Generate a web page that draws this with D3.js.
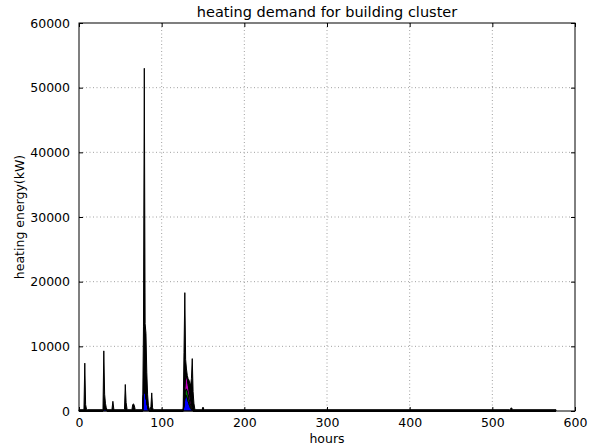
<!DOCTYPE html>
<html>
<head>
<meta charset="utf-8">
<script src="https://cdn.jsdelivr.net/npm/d3@7"></script>
<style>
  html, body { margin: 0; padding: 0; background: #fff; }
  svg { display: block; }
  text { font-family: "DejaVu Sans", sans-serif; fill: #000; }
</style>
</head>
<body>
<svg id="chart" width="594" height="448"></svg>
<script>
// Sampled hours (only the hours where the load changes are listed)
const hours = [
  0, 5, 6, 7, 8, 9, 10,
  29, 30, 31, 32, 33, 34,
  39, 40, 41, 42, 43,
  55, 56, 57, 58, 59,
  64, 65, 66, 67, 68,
  77, 78, 79, 80, 81, 82, 83, 84, 85, 86, 87, 88, 89, 90,
  126, 127, 128, 129, 130, 131, 132, 133, 134, 135, 136, 137, 138, 139, 140, 141,
  148, 149, 150, 151, 152,
  521, 522, 523, 524, 525,
  577
];

// Total heating demand of the cluster (kW)
const totalDemand = [
  200, 200, 300, 7400, 1000, 300, 200,
  200, 9300, 2600, 1200, 500, 200,
  200, 400, 1500, 400, 200,
  200, 4100, 1300, 400, 200,
  200, 1000, 1100, 800, 200,
  200, 13000, 53000, 13500, 12000, 6000, 2500, 800, 300, 200, 700, 2800, 500, 200,
  200, 9000, 18300, 8000, 6500, 5500, 5000, 4800, 4300, 4000, 5000, 8100, 3000, 1200, 400, 200,
  200, 300, 600, 300, 200,
  200, 300, 500, 300, 200,
  200
];

// Individual building loads (kW), stacked from the bottom
const building1 = [
  0, 0, 0, 0, 0, 0, 0,
  0, 200, 400, 300, 100, 0,
  0, 0, 0, 0, 0,
  0, 0, 0, 0, 0,
  0, 0, 0, 0, 0,
  0, 2500, 3300, 3000, 2200, 1400, 700, 200, 0, 0, 0, 0, 0, 0,
  0, 800, 1800, 2500, 2400, 2000, 1500, 1100, 700, 400, 200, 100, 0, 0, 0, 0,
  0, 0, 0, 0, 0,
  0, 0, 0, 0, 0,
  0
];
const building2 = [
  0, 0, 0, 0, 0, 0, 0,
  0, 0, 0, 0, 0, 0,
  0, 0, 0, 0, 0,
  0, 0, 0, 0, 0,
  0, 0, 0, 0, 0,
  0, 0, 0, 0, 0, 0, 0, 0, 0, 0, 0, 0, 0, 0,
  0, 200, 500, 800, 1000, 1100, 1100, 900, 700, 500, 300, 100, 0, 0, 0, 0,
  0, 0, 0, 0, 0,
  0, 0, 0, 0, 0,
  0
];
const building3 = [
  0, 0, 0, 0, 0, 0, 0,
  0, 0, 0, 0, 0, 0,
  0, 0, 0, 0, 0,
  0, 0, 0, 0, 0,
  0, 0, 0, 0, 0,
  0, 0, 0, 0, 0, 0, 0, 0, 0, 0, 0, 0, 0, 0,
  0, 500, 1300, 1900, 2000, 1800, 1500, 1300, 1000, 800, 600, 300, 100, 0, 0, 0,
  0, 0, 0, 0, 0,
  0, 0, 0, 0, 0,
  0
];
// Remaining buildings: whatever is left of the total
const building4 = totalDemand.map((t, i) => t - building1[i] - building2[i] - building3[i]);

const seriesKeys = ["b1", "b2", "b3", "b4"];
const seriesColors = ["#0000ff", "#008000", "#bf00bf", "#000000"];

const xTicks = [0, 100, 200, 300, 400, 500, 600];
const yTicks = [0, 10000, 20000, 30000, 40000, 50000, 60000];

const titleText = "heating demand for building cluster";
const xLabelText = "hours";
const yLabelText = "heating energy(kW)";

// ---- layout ----
const W = 594, H = 448;
const margin = { left: 79, right: 19, top: 23, bottom: 37 };
const innerW = W - margin.left - margin.right;
const innerH = H - margin.top - margin.bottom;

const svg = d3.select("#chart");
const g = svg.append("g").attr("transform", `translate(${margin.left},${margin.top})`);

const x = d3.scaleLinear().domain([0, 600]).range([0, innerW]);
const y = d3.scaleLinear().domain([0, 60000]).range([innerH, 0]);

// rows for the stack
const rows = hours.map((h, i) => ({
  hour: h, b1: building1[i], b2: building2[i], b3: building3[i], b4: building4[i]
}));
const stacked = d3.stack().keys(seriesKeys)(rows);

// dotted grid
g.append("g").selectAll("line.gx").data(xTicks.slice(1, -1)).join("line")
  .attr("x1", d => x(d)).attr("x2", d => x(d))
  .attr("y1", 0).attr("y2", innerH)
  .attr("stroke", "#888").attr("stroke-width", 0.8).attr("stroke-dasharray", "1,2.5");
g.append("g").selectAll("line.gy").data(yTicks.slice(1, -1)).join("line")
  .attr("y1", d => y(d)).attr("y2", d => y(d))
  .attr("x1", 0).attr("x2", innerW)
  .attr("stroke", "#888").attr("stroke-width", 0.8).attr("stroke-dasharray", "1,2.5");

// stacked areas with black edges
const area = d3.area()
  .x(d => x(d.data.hour))
  .y0(d => y(d[0]))
  .y1(d => y(d[1]));

g.append("g").selectAll("path").data(stacked).join("path")
  .attr("d", area)
  .attr("fill", (d, i) => seriesColors[i])
  .attr("stroke", "#000")
  .attr("stroke-width", 1)
  .attr("stroke-linejoin", "round");

// axes: ticks drawn inward on all four sides
const tickLen = 4;
const axBottom = d3.axisBottom(x).tickValues(xTicks).tickSize(-tickLen).tickPadding(7).tickFormat(d3.format("d"));
const axTop = d3.axisTop(x).tickValues(xTicks).tickSize(-tickLen).tickFormat("");
const axLeft = d3.axisLeft(y).tickValues(yTicks).tickSize(-tickLen).tickPadding(9).tickFormat(d3.format("d"));
const axRight = d3.axisRight(y).tickValues(yTicks).tickSize(-tickLen).tickFormat("");

function styleAxis(sel) {
  sel.select(".domain").remove();
  sel.selectAll(".tick line").attr("stroke", "#000").attr("stroke-width", 1);
  sel.selectAll(".tick text").attr("font-size", 12.5).attr("font-family", "DejaVu Sans, sans-serif").attr("fill", "#000");
}
g.append("g").attr("transform", `translate(0,${innerH})`).call(axBottom).call(styleAxis);
g.append("g").call(axTop).call(styleAxis);
g.append("g").call(axLeft).call(styleAxis);
g.append("g").attr("transform", `translate(${innerW},0)`).call(axRight).call(styleAxis);

// frame
g.append("rect").attr("x", 0).attr("y", 0).attr("width", innerW).attr("height", innerH)
  .attr("fill", "none").attr("stroke", "#000").attr("stroke-width", 1);

// labels
svg.append("text").attr("x", margin.left + innerW / 2).attr("y", 17)
  .attr("text-anchor", "middle").attr("font-size", 14.5).text(titleText);
svg.append("text").attr("x", margin.left + innerW / 2).attr("y", 443)
  .attr("text-anchor", "middle").attr("font-size", 12.5).text(xLabelText);
svg.append("text").attr("transform", `translate(24,${margin.top + innerH / 2}) rotate(-90)`)
  .attr("text-anchor", "middle").attr("font-size", 12.5).text(yLabelText);
</script>
</body>
</html>
